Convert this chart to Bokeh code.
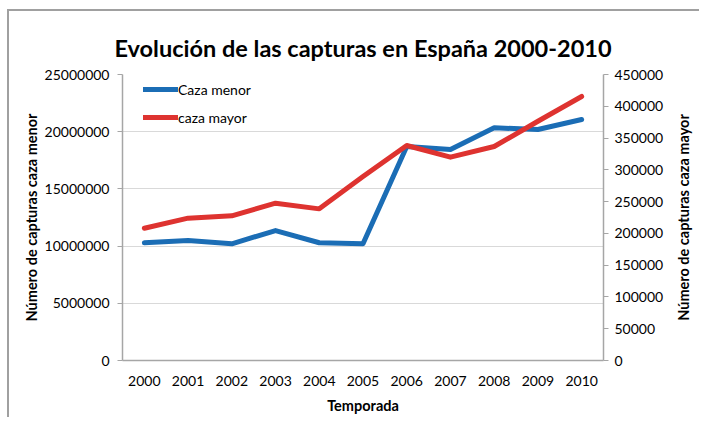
import math
from bokeh.plotting import figure
from bokeh.models import LinearAxis, Range1d, SingleIntervalTicker, BasicTickFormatter, Legend, LegendItem, Label
from bokeh.embed import file_html
from bokeh.resources import INLINE

years = ["2000", "2001", "2002", "2003", "2004", "2005", "2006", "2007", "2008", "2009", "2010"]
caza_menor = [10290000, 10490000, 10200000, 11360000, 10290000, 10200000, 18700000, 18440000, 20340000, 20190000, 21070000]
caza_mayor = [208000, 224000, 227600, 247500, 238600, 289500, 338300, 319900, 336700, 376500, 415400]

FONT = "Lato"
AX = "#a6a6a6"
W, H = 692, 408

p = figure(width=W, height=H, x_range=years, y_range=Range1d(0, 25000000),
           output_backend="svg", toolbar_location=None,
           title="Evolución de las capturas en España 2000-2010",
           min_border_left=113, min_border_right=98, min_border_top=63, min_border_bottom=59)
p.styles = {"border-top": "2px solid #a0a0a0", "border-left": "2px solid #a0a0a0",
            "margin-left": "7px", "margin-top": "9px"}
p.extra_y_ranges = {"y2": Range1d(0, 450000)}

p.title.align = "center"
p.title.text_font = FONT
p.title.text_font_size = "23.5px"
p.title.text_font_style = "bold"
p.title.text_color = "#000000"
p.title.offset = 0
p.title.standoff = 25

p.outline_line_color = None
p.xgrid.grid_line_color = None
p.ygrid.grid_line_color = "#d9d9d9"
p.ygrid.grid_line_width = 1

r1 = p.line(years, caza_menor, line_width=5, color="#1B6DB5", line_cap="round", line_join="round")
r2 = p.line(years, caza_mayor, line_width=5, color="#DE3330", line_cap="round", line_join="round", y_range_name="y2")

# left axis
ya = p.yaxis[0]
ya.ticker = SingleIntervalTicker(interval=5000000)
ya.formatter = BasicTickFormatter(use_scientific=False)
ya.axis_label = "Número de capturas caza menor"
# right axis
y2 = LinearAxis(y_range_name="y2", ticker=SingleIntervalTicker(interval=50000),
                formatter=BasicTickFormatter(use_scientific=False))
p.add_layout(y2, "right")

xa = p.xaxis[0]
xa.axis_label = "Temporada"

for ax in [ya, y2, xa]:
    ax.axis_line_color = AX
    ax.axis_line_width = 1.5
    ax.major_tick_line_color = AX
    ax.minor_tick_line_color = None
    ax.major_tick_in = 0
    ax.major_tick_out = 5
    ax.major_label_text_font = FONT
    ax.major_label_text_font_size = "14px"
    ax.major_label_text_color = "#000000"
    ax.axis_label_text_font = FONT
    ax.axis_label_text_font_size = "14.5px"
    ax.axis_label_text_font_style = "bold"
    ax.axis_label_text_color = "#000000"

xa.major_tick_out = 0
xa.major_label_standoff = 15
xa.axis_label_standoff = 8
ya.major_label_standoff = 8
ya.axis_label_standoff = 2
y2.major_label_standoff = 6

# right axis title, reading upwards like the left one; anchored at the right edge
# of the category range (len(years)) and pushed outwards by a pixel offset.
# Placed in the right side panel so that it is not clipped to the plot frame.
right_label = Label(x=len(years), y=143, x_units="data", y_units="screen", x_offset=80,
                    text="Número de capturas caza mayor", angle=math.pi / 2,
                    text_align="center", text_baseline="middle",
                    text_font=FONT, text_font_size="14.5px", text_font_style="bold",
                    text_color="#000000")
p.add_layout(right_label, "right")

legend = Legend(items=[LegendItem(label="Caza menor", renderers=[r1]),
                       LegendItem(label="caza mayor", renderers=[r2])],
                location=(21, 233))
legend.background_fill_alpha = 0
legend.border_line_color = None
legend.glyph_width = 35
legend.glyph_height = 20
legend.label_height = 20
legend.spacing = 8
legend.padding = 5
legend.margin = 0
legend.label_standoff = 0
legend.label_text_font = FONT
legend.label_text_font_size = "14px"
legend.label_text_color = "#000000"
p.add_layout(legend)

open("out.html", "w").write(file_html(p, INLINE))
